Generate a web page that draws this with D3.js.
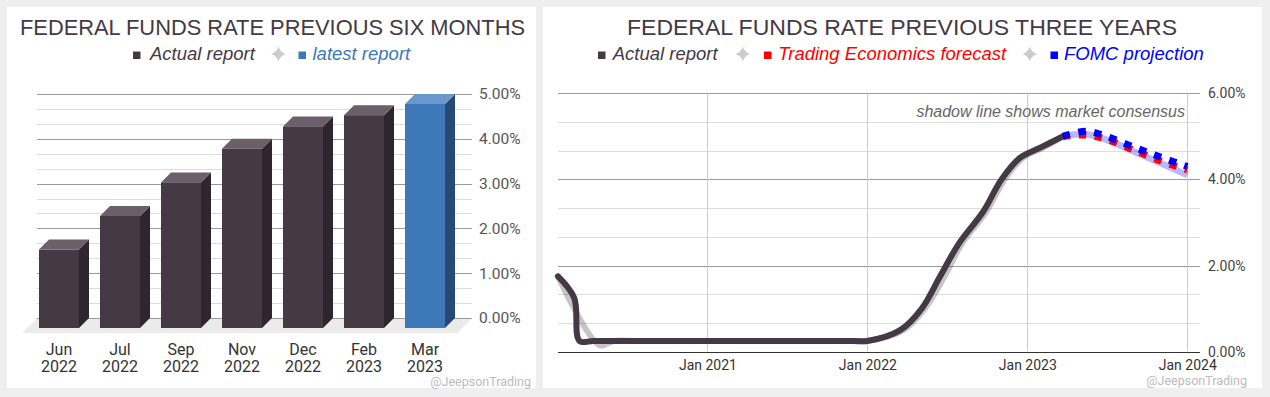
<!DOCTYPE html>
<html>
<head>
<meta charset="utf-8">
<script src="https://cdn.jsdelivr.net/npm/d3@7"></script>
<style>
  html, body { margin: 0; padding: 0; background: #efefef; }
  svg { display: block; }
</style>
</head>
<body>
<svg id="chart" width="1270" height="397"></svg>
<script>
// ---------- DATA ----------
const barCategories = ["Jun 2022", "Jul 2022", "Sep 2022", "Nov 2022", "Dec 2022", "Feb 2023", "Mar 2023"];
const barValues = [1.75, 2.50, 3.25, 4.00, 4.50, 4.75, 5.00];
const barTicks = [0, 1, 2, 3, 4, 5];

const actualDates = ["2020-01-26", "2020-03-03", "2020-03-15", "2020-04-15", "2020-06-01", "2021-12-01", "2022-01-01", "2022-03-17",
  "2022-05-05", "2022-06-16", "2022-07-28", "2022-09-22", "2022-11-03", "2022-12-15", "2023-02-02", "2023-03-23"];
const actualValues = [1.75, 1.25, 0.25, 0.25, 0.25, 0.25, 0.25, 0.50, 1.00, 1.75, 2.50, 3.25, 4.00, 4.50, 4.75, 5.00];

const consensusDates = ["2020-01-26", "2020-04-30", "2020-06-01", "2020-08-01", "2021-12-01", "2022-01-01", "2022-03-24", "2022-05-12",
  "2022-06-26", "2022-08-04", "2022-09-29", "2022-11-10", "2022-12-22", "2023-02-09", "2023-03-23"];
const consensusValues = [1.75, 0.15, 0.25, 0.25, 0.25, 0.25, 0.50, 1.00, 1.75, 2.50, 3.25, 4.00, 4.50, 4.75, 5.00];

const forecastDates = ["2023-03-23", "2023-05-15", "2023-07-01", "2023-09-01", "2023-11-01", "2024-01-01"];
const teForecast = [5.00, 5.03, 4.93, 4.68, 4.43, 4.22];
const fomcProjection = [5.00, 5.12, 5.00, 4.75, 4.52, 4.30];
const forecastConsensus = [5.00, 5.05, 4.92, 4.65, 4.38, 4.10];

const lineTicks = [0, 2, 4, 6];
const lineTimeTicks = ["2021-01-01", "2022-01-01", "2023-01-01", "2024-01-01"];

// ---------- SETUP ----------
const svg = d3.select("#chart");
const parse = d3.utcParse("%Y-%m-%d");
const titleFont = "'Liberation Sans', Arial, sans-serif";
const tickFont = "Roboto, 'Liberation Sans', sans-serif";
const dark = "#443944";

svg.append("rect").attr("x", 0).attr("y", 0).attr("width", 1270).attr("height", 397).attr("fill", "#efefef");
svg.append("rect").attr("x", 7).attr("y", 7).attr("width", 529).attr("height", 381).attr("fill", "#fff");
svg.append("rect").attr("x", 543).attr("y", 7).attr("width", 719).attr("height", 381).attr("fill", "#fff");

function star(g, cx, cy, r) {
  // four-pointed star with concave sides
  const k = r * 0.22;
  const d = `M${cx},${cy - r} Q${cx + k},${cy - k} ${cx + r},${cy} Q${cx + k},${cy + k} ${cx},${cy + r} ` +
            `Q${cx - k},${cy + k} ${cx - r},${cy} Q${cx - k},${cy - k} ${cx},${cy - r}Z`;
  g.append("path").attr("d", d).attr("fill", "#cccccc");
}

function legendItem(g, x, textX, label, color) {
  g.append("rect").attr("x", x).attr("y", 51.5).attr("width", 7.5).attr("height", 7.5).attr("fill", color);
  g.append("text").attr("x", textX).attr("y", 60)
    .attr("font-family", titleFont).attr("font-style", "italic").attr("font-size", 18.5)
    .attr("fill", color).text(label);
}

// ---------- LEFT CHART ----------
const L = svg.append("g");
L.append("text").attr("x", 272.5).attr("y", 35).attr("text-anchor", "middle")
  .attr("font-family", titleFont).attr("font-size", 22).attr("fill", dark)
  .attr("textLength", 505).attr("lengthAdjust", "spacingAndGlyphs")
  .text("FEDERAL FUNDS RATE PREVIOUS SIX MONTHS");
legendItem(L, 133, 150, "Actual report", dark);
star(L, 278.5, 54, 7.5);
legendItem(L, 298.5, 312.5, "latest report", "#3d78b8");

const yB = d3.scaleLinear().domain([0, 5]).range([318, 94]);
const xB = d3.scaleBand().domain(barCategories).range([28.5, 455.5]).paddingInner(0.344).paddingOuter(0.172);
const depth = 10;

// floor
L.append("path").attr("d", d3.line()([[37, yB(0)], [472, yB(0)], [457.5, yB(0) + 15], [22.5, yB(0) + 15]]) + "Z")
  .attr("fill", "#ebebeb");

// gridlines (every 1/3 %)
const minor = d3.range(0, 15.5).map(i => i / 3);
L.selectAll("line.grid").data(minor).enter().append("line")
  .attr("x1", 37).attr("x2", 472)
  .attr("y1", d => Math.round(yB(d)) + 0.5).attr("y2", d => Math.round(yB(d)) + 0.5)
  .attr("stroke", (d, i) => i % 3 === 0 ? "#9a9a9a" : "#dddddd").attr("stroke-width", 1);

// y axis labels
const yAxisL = d3.axisRight(yB).tickValues(barTicks).tickSize(0).tickPadding(0)
  .tickFormat(d => d3.format(".2f")(d) + "%");
L.append("g").attr("transform", "translate(479,0)").call(yAxisL)
  .call(g => g.select(".domain").remove())
  .call(g => g.selectAll("text").attr("font-family", tickFont).attr("font-size", 15.5).attr("fill", "#555"));

// bars
const bars = L.selectAll("g.bar").data(barCategories.map((c, i) => ({ c, v: barValues[i], i }))).enter().append("g");
const colors = (i) => i === barCategories.length - 1
  ? { front: "#3d78b8", side: "#274a73", top: "#6a98cc" }
  : { front: "#443944", side: "#2e252e", top: "#6b5f69" };
bars.each(function (d) {
  const g = d3.select(this);
  const x0 = xB(d.c), w = xB.bandwidth();
  const yT = yB(d.v) + depth, yZ = yB(0) + depth;
  const c = colors(d.i);
  g.append("path").attr("d", d3.line()([[x0 + w, yT], [x0 + w + depth, yT - depth], [x0 + w + depth, yZ - depth], [x0 + w, yZ]]) + "Z").attr("fill", c.side);
  g.append("path").attr("d", d3.line()([[x0, yT], [x0 + depth, yT - depth], [x0 + w + depth, yT - depth], [x0 + w, yT]]) + "Z").attr("fill", c.top);
  g.append("rect").attr("x", x0).attr("y", yT).attr("width", w).attr("height", yZ - yT).attr("fill", c.front);
});

// x labels
bars.each(function (d) {
  const parts = d.c.split(" ");
  const t = d3.select(this).append("text").attr("text-anchor", "middle")
    .attr("font-family", tickFont).attr("font-size", 16).attr("fill", "#333");
  t.append("tspan").attr("x", xB(d.c) + xB.bandwidth() / 2).attr("y", 355).text(parts[0]);
  t.append("tspan").attr("x", xB(d.c) + xB.bandwidth() / 2).attr("y", 371.5).text(parts[1]);
});

L.append("text").attr("x", 531).attr("y", 386).attr("text-anchor", "end")
  .attr("font-family", tickFont).attr("font-size", 12.5).attr("fill", "#bbbbbb").text("@JeepsonTrading");

// ---------- RIGHT CHART ----------
const R = svg.append("g");
R.append("text").attr("x", 902).attr("y", 35).attr("text-anchor", "middle")
  .attr("font-family", titleFont).attr("font-size", 22).attr("fill", dark)
  .attr("textLength", 550).attr("lengthAdjust", "spacingAndGlyphs")
  .text("FEDERAL FUNDS RATE PREVIOUS THREE YEARS");
legendItem(R, 598, 612.7, "Actual report", dark);
star(R, 742.8, 54, 7.5);
legendItem(R, 764, 778.3, "Trading Economics forecast", "#ff0000");
star(R, 1029.8, 54, 7.5);
legendItem(R, 1050.5, 1064, "FOMC projection", "#0000ff");

const xT = d3.scaleUtc().domain([parse("2020-01-26"), parse("2024-01-30")]).range([558, 1200]);
const yT = d3.scaleLinear().domain([0, 6]).range([351.7, 93.3]);

// horizontal grid (every 2/3 %)
const hg = d3.range(0, 9.5).map(i => i * 2 / 3);
R.selectAll("line.hg").data(hg).enter().append("line")
  .attr("x1", 558).attr("x2", 1200)
  .attr("y1", d => Math.round(yT(d)) + 0.5).attr("y2", d => Math.round(yT(d)) + 0.5)
  .attr("stroke", (d, i) => i === 0 ? "#333" : (i % 3 === 0 ? "#9a9a9a" : "#dddddd"));
// vertical grid
R.selectAll("line.vg").data(lineTimeTicks).enter().append("line")
  .attr("x1", d => Math.round(xT(parse(d))) + 0.5).attr("x2", d => Math.round(xT(parse(d))) + 0.5)
  .attr("y1", yT(6)).attr("y2", yT(0) - 0.5).attr("stroke", "#cccccc");

// axes labels
const yAxisR = d3.axisRight(yT).tickValues(lineTicks).tickSize(0).tickPadding(0)
  .tickFormat(d => d3.format(".2f")(d) + "%");
R.append("g").attr("transform", "translate(1208,0)").call(yAxisR)
  .call(g => g.select(".domain").remove())
  .call(g => g.selectAll("text").attr("font-family", tickFont).attr("font-size", 14).attr("fill", "#444"));
const xAxisR = d3.axisBottom(xT).tickValues(lineTimeTicks.map(parse)).tickSize(0).tickPadding(0)
  .tickFormat(d3.utcFormat("%b %Y"));
R.append("g").attr("transform", "translate(0,360)").call(xAxisR)
  .call(g => g.select(".domain").remove())
  .call(g => g.selectAll("text").attr("font-family", tickFont).attr("font-size", 14).attr("fill", "#333"));

// annotation
R.append("text").attr("x", 1185).attr("y", 117).attr("text-anchor", "end")
  .attr("font-family", titleFont).attr("font-style", "italic").attr("font-size", 16).attr("fill", "#666")
  .text("shadow line shows market consensus");

const line = d3.line().x(d => xT(d[0])).y(d => yT(d[1])).curve(d3.curveCatmullRom.alpha(0.5));
const zip = (ds, vs) => ds.map((d, i) => [parse(d), vs[i]]);

R.append("path").attr("d", line(zip(consensusDates, consensusValues)))
  .attr("fill", "none").attr("stroke", "rgba(68,57,68,0.3)").attr("stroke-width", 6).attr("stroke-linecap", "round");
R.append("path").attr("d", line(zip(forecastDates, forecastConsensus)))
  .attr("fill", "none").attr("stroke", "rgba(0,0,255,0.28)").attr("stroke-width", 6.5);
R.append("path").attr("d", line(zip(actualDates, actualValues)))
  .attr("fill", "none").attr("stroke", dark).attr("stroke-width", 6).attr("stroke-linecap", "round").attr("stroke-linejoin", "round");
R.append("path").attr("d", line(zip(forecastDates, teForecast)))
  .attr("fill", "none").attr("stroke", "#ff0000").attr("stroke-width", 7).attr("stroke-dasharray", "7.5,8.5");
R.append("path").attr("d", line(zip(forecastDates, fomcProjection)))
  .attr("fill", "none").attr("stroke", "#0000ff").attr("stroke-width", 7).attr("stroke-dasharray", "7.5,8.5");

R.append("text").attr("x", 1247).attr("y", 385).attr("text-anchor", "end")
  .attr("font-family", tickFont).attr("font-size", 12.5).attr("fill", "#bbbbbb").text("@JeepsonTrading");
</script>
</body>
</html>
